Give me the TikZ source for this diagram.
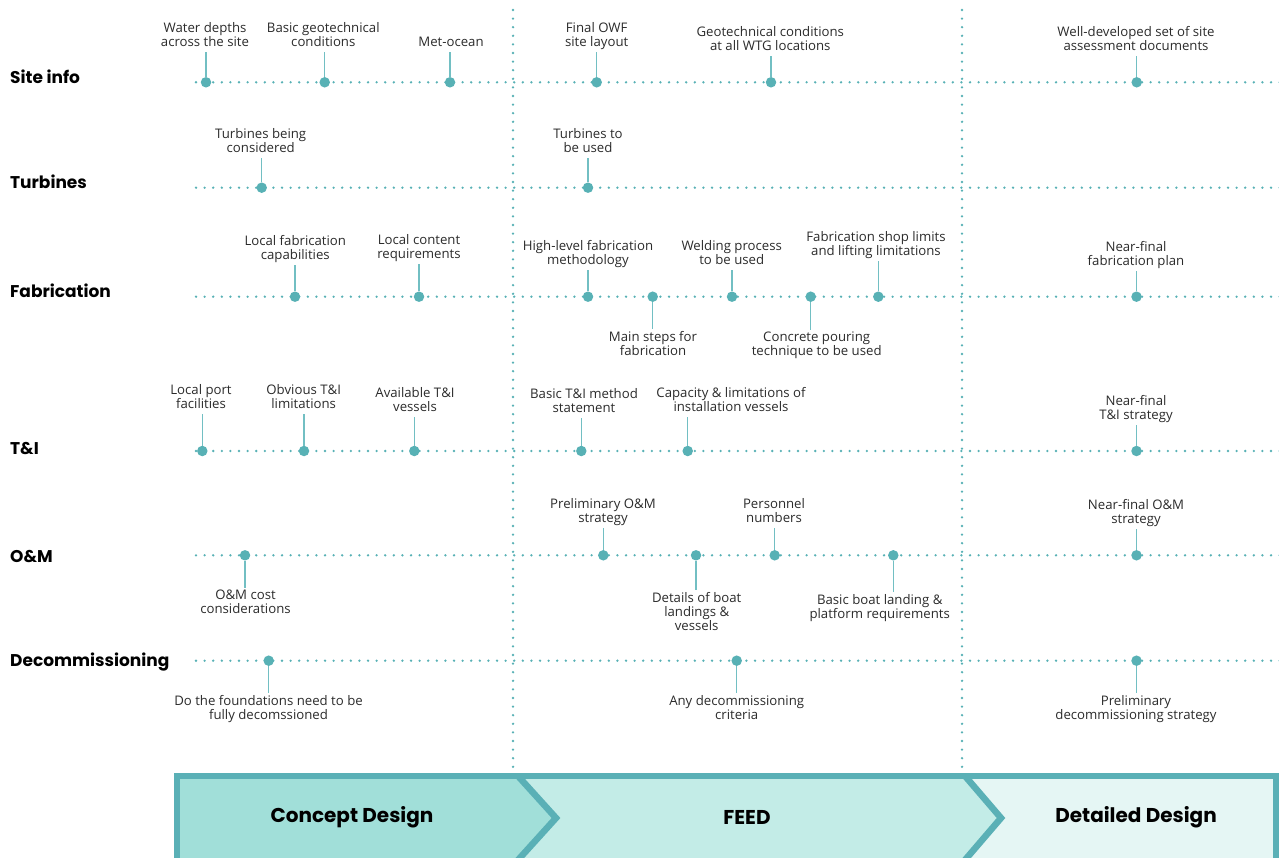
\documentclass[tikz,border=0pt]{standalone}
\usepackage{fontspec}
\setmainfont{Open Sans}
\newfontfamily\headfont{Poppins}
\usetikzlibrary{calc}

\definecolor{teal1}{HTML}{58B1B5}
\definecolor{stemc}{HTML}{72BFC3}
\definecolor{barline}{HTML}{5AB0B6}
\definecolor{conceptfill}{HTML}{A1DFD9}
\definecolor{feedfill}{HTML}{C3ECE7}
\definecolor{detailfill}{HTML}{E5F6F4}
\definecolor{txt}{HTML}{2B2B2B}

\tikzset{
  dotline/.style={draw=teal1, line width=2.6pt, line cap=round, dash pattern=on 0pt off 8.6pt},
  evdot/.style={circle, fill=teal1, draw=none, minimum size=10.5pt, inner sep=0pt},
  evlabel/.style={align=center, inner sep=0pt, text=txt, yshift=-2.5pt,
    font=\fontsize{13.2}{14}\selectfont,
    execute at begin node=\strut, execute at end node=\strut},
  evstem/.style={draw=stemc, line width=1.4pt},
  rowhead/.style={anchor=base west, inner sep=0pt, text=black,
    font=\headfont\bfseries\fontsize{17}{20}\selectfont},
  phase/.style={inner sep=0pt, text=black,
    font=\headfont\bfseries\fontsize{20}{24}\selectfont},
  bar/.style={draw=barline, line width=6.5pt}
}

% event above the row line: name, dot x, row y, label x, label y, text
\newcommand\evup[6]{%
  \node[evdot] (#1) at (#2,#3) {};
  \node[evlabel] (#1l) at (#4,#5) {#6};
  \draw[evstem] (#1) -- ($(#1l.south -| #1)+(0,1)$);
}
% event below the row line
\newcommand\evdown[6]{%
  \node[evdot] (#1) at (#2,#3) {};
  \node[evlabel] (#1l) at (#4,#5) {#6};
  \draw[evstem] (#1) -- ($(#1l.north -| #1)+(0,-2)$);
}

\begin{document}
\begin{tikzpicture}[x=1pt, y=-1pt]
\useasboundingbox (0,0) rectangle (1279,858);
\clip (0,0) rectangle (1279,858);

% phase separators
\coordinate (v1t) at (513,10);
\coordinate (v1b) at (513,770);
\coordinate (v2t) at (962,10);
\coordinate (v2b) at (962,770);
\draw[dotline] (v1t) -- (v1b);
\draw[dotline] (v2t) -- (v2b);

% row headings and timelines
\foreach \nm/\txt/\base/\ly in {site/Site info/84/82.3, turb/Turbines/189/187.7,
    fab/Fabrication/298/296.7, ti/T\&I/454/451, om/O\&M/562/555.3,
    dec/Decommissioning/666/660.7}{
  \node[rowhead] (h\nm) at (10,\base) {\txt};
  \coordinate (\nm s) at (196,\ly);
  \coordinate (\nm e) at (1282,\ly);
  \draw[dotline] (\nm s) -- (\nm e);
}

% Site info
\evup{s1}{206}{82.3}{205}{34}{Water depths\\across the site}
\evup{s2}{324.7}{82.3}{323.3}{34}{Basic geotechnical\\conditions}
\evup{s3}{450}{82.3}{451}{41}{Met-ocean}
\evup{s4}{596.7}{82.3}{596.7}{34}{Final OWF\\site layout}
\evup{s5}{771}{82.3}{770.3}{38.3}{Geotechnical conditions\\at all WTG locations}
\evup{s6}{1136.7}{82.3}{1136}{38}{Well-developed set of site\\assessment documents}

% Turbines
\evup{t1}{261.7}{187.7}{260.7}{140.3}{Turbines being\\considered}
\evup{t2}{588}{187.7}{588}{140.5}{Turbines to\\be used}

% Fabrication
\evup{f1}{295}{296.7}{295.3}{247}{Local fabrication\\capabilities}
\evup{f2}{419}{296.7}{419}{246}{Local content\\requirements}
\evup{f3}{588}{296.7}{588}{252}{High-level fabrication\\methodology}
\evdown{f4}{652.7}{296.7}{653}{343.3}{Main steps for\\fabrication}
\evup{f5}{732}{296.7}{731.7}{251.7}{Welding process\\to be used}
\evdown{f6}{810.7}{296.7}{816.7}{343.3}{Concrete pouring\\technique to be used}
\evup{f7}{878.3}{296.7}{876}{243}{Fabrication shop limits\\and lifting limitations}
\evup{f8}{1136.5}{296.7}{1136}{253}{Near-final\\fabrication plan}

% T&I
\evup{i1}{202.3}{451}{201}{396.5}{Local port\\facilities}
\evup{i2}{304}{451}{303.7}{396.5}{Obvious T\&I\\limitations}
\evup{i3}{414.3}{451}{415}{398.7}{Available T\&I\\vessels}
\evup{i4}{581.3}{451}{584}{400}{Basic T\&I method\\statement}
\evup{i5}{687.7}{451}{731}{398.7}{Capacity \& limitations of\\installation vessels}
\evup{i6}{1136.5}{451}{1136}{407}{Near-final\\T\&I strategy}

% O&M
\evdown{o1}{245}{555.3}{245.5}{601.5}{O\&M cost\\considerations}
\evup{o2}{603.3}{555.3}{603}{510}{Preliminary O\&M\\strategy}
\evdown{o3}{696}{555.3}{696.7}{611}{Details of boat\\landings \&\\vessels}
\evup{o4}{774.7}{555.3}{774}{510.2}{Personnel\\numbers}
\evdown{o5}{893.3}{555.3}{879.7}{605.8}{Basic boat landing \&\\platform requirements}
\evup{o6}{1136.5}{555.3}{1136}{511}{Near-final O\&M\\strategy}

% Decommissioning
\evdown{d1}{268.7}{660.7}{268.5}{707}{Do the foundations need to be\\fully decomssioned}
\evdown{d2}{736.7}{660.7}{736.7}{707}{Any decommissioning\\criteria}
\evdown{d3}{1136.5}{660.7}{1136}{707}{Preliminary\\decommissioning strategy}

% phase bar
\fill[conceptfill] (177,776) -- (518,776) -- (556,818) -- (518,862) -- (177,862) -- cycle;
\fill[feedfill] (518,776) -- (965,776) -- (1001,818) -- (965,862) -- (518,862) -- (556,818) -- cycle;
\fill[detailfill] (965,776) -- (1276,776) -- (1276,862) -- (965,862) -- (1001,818) -- cycle;
\draw[bar] (177,864) -- (177,776) -- (1276,776) -- (1276,864);
\draw[bar, line join=miter] (518,776) -- (556,818) -- (518,860);
\draw[bar, line join=miter] (965,776) -- (1001,818) -- (965,860);
\node[phase] (pc) at (352,817) {Concept Design};
\node[phase] (pf) at (747,817) {FEED};
\node[phase] (pd) at (1136,817) {Detailed Design};
\end{tikzpicture}
\end{document}
